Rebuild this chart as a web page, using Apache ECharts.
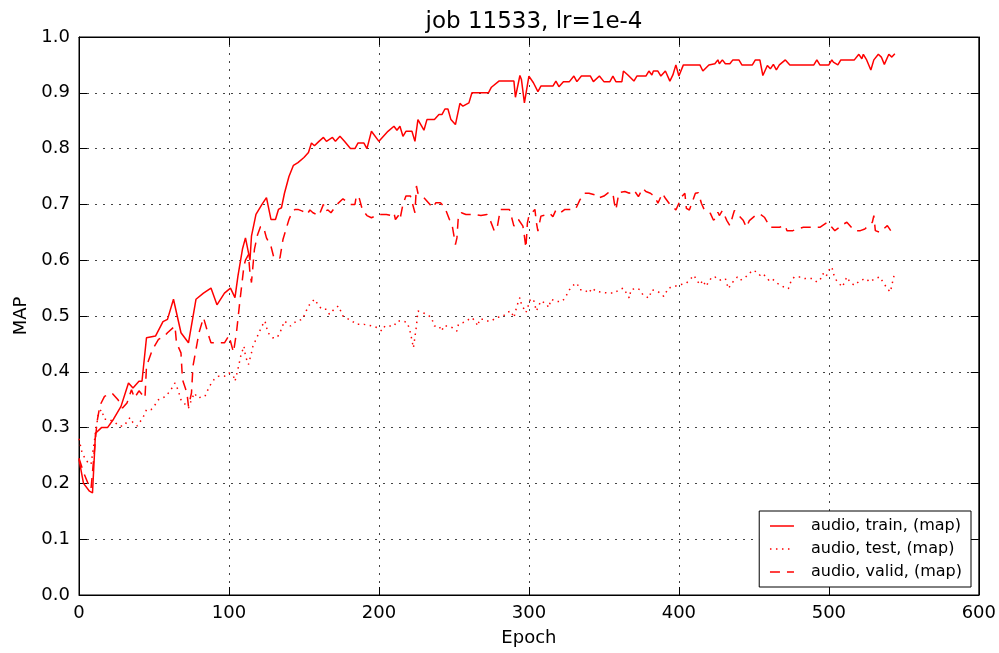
<!DOCTYPE html>
<html>
<head>
<meta charset="utf-8">
<script src="https://cdn.jsdelivr.net/npm/echarts@6/dist/echarts.min.js"></script>
<style>html,body{margin:0;padding:0;background:#fff}#c{width:999px;height:653px}</style>
</head>
<body>
<div id="c"></div>
<script>
const titleText = 'job 11533, lr=1e-4';
const seriesNames = ['audio, train, (map)', 'audio, test, (map)', 'audio, valid, (map)'];
const xTicks = [0, 100, 200, 300, 400, 500, 600];
const yTicks = [0, 0.1, 0.2, 0.3, 0.4, 0.5, 0.6, 0.7, 0.8, 0.9, 1.0];

const trainEpoch = [0,3,7,9,11,15,19,23,28,33, 36,40,42,45,51,56,59,63,68,73, 78,83,88,92,97,101,104,106,109,111,
 114,115,118,122,125,128,131,133,135,137, 140,143,146,150,153,155,157,160,163,165, 169,171,174,177,181,184,186,190,192,195,
 200,203,206,210,212,214,216,218,222,224, 226,230,232,237,240,242,244,246,248,251, 254,256,260,262,273,275,280,290,291,294,
 295,297,300,303,306,308,316,318,320,323, 327,330,332,335,341,343,347,350,354,356, 358,362,363,366,370,372,378,380,382,383,
 386,388,391,394,396,398,400,403,414,416, 420,424,426,427,429,431,434,436,440,442, 449,451,454,456,459,461,463,465,467,471,
 474,490,492,494,500,502,503,506,508,517, 520,522,523,525,528,530,533,535,537,540, 542,544];
const trainMap = [.243,.200,.186,.183,.290,.300,.300,.315,.338,.380, .371,.383,.383,.461,.464,.490,.494,.530,.470,.452, .530,.541,.550,.520,.541,.550,.533,.572,.620,.640,
 .600,.643,.682,.700,.712,.673,.673,.691,.694,.720, .750,.770,.775,.784,.793,.810,.805,.813,.820,.813, .820,.813,.822,.813,.800,.800,.810,.810,.800,.831,
 .813,.822,.831,.840,.833,.840,.822,.831,.831,.813, .852,.833,.852,.852,.861,.861,.871,.871,.852,.843, .881,.876,.882,.900,.900,.910,.921,.921,.892,.931,
 .924,.882,.930,.918,.902,.912,.912,.921,.911,.920, .920,.930,.920,.930,.930,.920,.930,.920,.920,.930, .920,.920,.939,.932,.921,.930,.930,.939,.932,.939,
 .939,.930,.939,.921,.932,.950,.930,.950,.950,.939, .950,.952,.959,.952,.959,.952,.952,.959,.959,.950, .950,.959,.959,.931,.949,.943,.951,.941,.950,.959,
 .950,.950,.959,.950,.950,.959,.955,.950,.959,.959, .969,.961,.969,.960,.941,.959,.969,.964,.951,.969, .964,.970];

const testEpoch = [0,2,3,5,8,9,13,15,17,20, 24,27,30,34,36,39,43,45,48,50, 53,58,62,64,66,68,70,73,75,77,
 79,84,87,90,93,97,100,103,104,106, 108,110,111,113,115,116,119,122,124,126, 129,132,134,137,141,145,149,151,153,155,
 157,160,162,165,167,170,173,176,180,182, 185,190,196,199,202,204,210,212,216,219, 220,221,223,225,226,229,232,235,237,240,
 242,243,246,249,252,253,256,260,262,264, 266,267,270,272,275,278,283,285,288,290, 292,294,295,298,301,303,305,308,312,313,
 315,316,318,322,324,327,330,332,334,337, 340,342,345,353,357,360,363,365,367,368, 372,374,376,380,382,386,390,393,397,401,
 405,407,410,411,412,414,416,418,422,424, 427,431,433,435,439,441,443,446,449,452, 454,456,460,462,466,470,473,475,477,481,
 484,489,492,494,496,498,500,502,503,505, 509,512,514,517,521,525,527,531,534,536, 539,541,542,544];
const testMap = [.280,.255,.250,.240,.234,.237,.327,.332,.315,.315, .309,.303,.303,.318,.309,.303,.320,.332,.332,.338, .350,.356,.371,.380,.368,.350,.344,.335,.350,.362,
 .353,.356,.374,.386,.392,.392,.398,.392,.383,.405, .430,.446,.428,.413,.434,.446,.464,.482,.491,.470, .461,.461,.470,.491,.482,.491,.494,.506,.518,.524,
 .530,.518,.512,.512,.503,.512,.518,.500,.494,.491, .485,.485,.482,.479,.473,.482,.482,.491,.491,.488, .479,.470,.443,.482,.509,.506,.503,.497,.482,.482,
 .473,.482,.482,.479,.473,.485,.488,.494,.497,.491, .482,.494,.494,.491,.491,.497,.500,.506,.509,.497, .518,.533,.521,.506,.530,.530,.509,.527,.521,.515,
 .530,.529,.526,.526,.532,.547,.556,.559,.547,.547, .541,.550,.544,.541,.541,.547,.550,.541,.532,.547, .550,.547,.538,.532,.547,.544,.535,.550,.553,.556,
 .559,.564,.573,.576,.564,.556,.564,.553,.570,.570, .564,.567,.549,.558,.570,.564,.567,.573,.582,.579, .573,.576,.564,.567,.558,.552,.549,.564,.570,.570,
 .567,.567,.561,.564,.576,.570,.582,.588,.576,.564, .552,.570,.561,.555,.564,.567,.561,.567,.570,.561, .549,.543,.555,.579];

const validEpoch = [0,3,6,8,10,12,14,17,22,26, 29,32,35,37,40,44,45,49,53,57, 59,64,65,68,69,72,73,75,76,78,
 80,83,87,88,97,100,103,105,107,110, 111,113,114,115,117,119,121,123,125,128, 130,134,136,140,142,144,146,149,152,154,
 156,160,163,164,166,168,172,176,181,184, 185,187,189,192,195,200,205,208,210,211, 213,214,216,218,221,224,225,226,228,233,
 236,238,241,244,247,249,251,252,253,255, 258,264,268,272,274,277,279,281,284,287, 288,290,293,296,297,298,299,300,302,304,
 305,306,308,312,314,316,318,321,324,331, 334,337,340,344,346,350,353,356,357,358, 360,364,367,370,373,376,378,381,384,386,
 389,391,394,396,398,402,404,405,407,411, 413,415,417,421,423,425,426,427,429,432, 434,436,437,441,443,445,447,451,454,457,
 461,467,471,472,476,479,483,487,494,499, 502,504,510,512,515,517,521,524,529,530, 531,534,539,542,544];
const validMap = [.245,.220,.200,.190,.250,.310,.340,.356,.362,.350, .335,.344,.368,.353,.366,.353,.410,.440,.458,.464, .470,.482,.452,.434,.386,.362,.338,.362,.410,.440,
 .470,.497,.460,.452,.452,.465,.435,.470,.520,.590, .600,.610,.577,.560,.620,.645,.660,.660,.640,.625, .604,.604,.637,.673,.685,.691,.691,.688,.682,.690,
 .685,.680,.700,.688,.690,.685,.700,.710,.700,.700, .716,.710,.690,.680,.676,.682,.682,.680,.685,.673, .680,.673,.700,.715,.715,.685,.733,.720,.718,.703,
 .694,.703,.703,.694,.673,.660,.628,.640,.680,.685, .682,.682,.680,.682,.673,.652,.661,.691,.691,.691, .682,.661,.673,.661,.643,.622,.667,.679,.685,.691,
 .667,.652,.679,.682,.684,.678,.690,.685,.691,.691, .708,.720,.720,.717,.711,.715,.721,.720,.702,.690, .721,.723,.720,.726,.714,.729,.723,.720,.714,.702,
 .720,.711,.700,.696,.690,.714,.720,.693,.690,.720, .721,.702,.690,.684,.672,.675,.686,.680,.689,.671, .662,.680,.689,.677,.671,.659,.671,.680,.683,.677,
 .659,.659,.662,.653,.653,.656,.659,.659,.659,.668, .659,.653,.665,.668,.659,.653,.653,.656,.668,.680, .653,.650,.662,.650,.652];

const FONT = 'DejaVu Sans';
function pairs(xs, ys) { return xs.map((x, i) => [x, ys[i]]); }

const gridLine = { show: true, lineStyle: { color: '#444', width: 1, type: [2, 6] } };
const tick = { show: true, inside: true, length: 8, lineStyle: { color: '#000', width: 1 } };
const axLine = { show: true, onZero: false, lineStyle: { color: '#000', width: 1 } };

const chart = echarts.init(document.getElementById('c'), null, { renderer: 'canvas' });
chart.setOption({
  animation: false,
  backgroundColor: '#fff',
  title: {
    text: titleText, left: 529, top: 6, textAlign: 'center',
    textStyle: { fontFamily: FONT, fontSize: 23, fontWeight: 'normal', color: '#000' }
  },
  grid: { left: 79, right: 20, top: 37, bottom: 58, show: true, borderColor: '#000', borderWidth: 1 },
  xAxis: [{
    type: 'value', min: xTicks[0], max: xTicks[xTicks.length - 1], interval: 100, position: 'bottom',
    axisLine: axLine, axisTick: tick, splitLine: gridLine,
    axisLabel: { color: '#000', fontFamily: FONT, fontSize: 18, margin: 9 },
    name: 'Epoch', nameLocation: 'middle', nameGap: 34,
    nameTextStyle: { color: '#000', fontFamily: FONT, fontSize: 18 }
  }, {
    type: 'value', min: xTicks[0], max: xTicks[xTicks.length - 1], interval: 100, position: 'top',
    axisLine: axLine, axisTick: tick, splitLine: { show: false }, axisLabel: { show: false }
  }],
  yAxis: [{
    type: 'value', min: yTicks[0], max: yTicks[yTicks.length - 1], interval: 0.1, position: 'left',
    axisLine: axLine, axisTick: tick, splitLine: gridLine,
    axisLabel: { color: '#000', fontFamily: FONT, fontSize: 18, margin: 9, formatter: v => v.toFixed(1) },
    name: 'MAP', nameLocation: 'middle', nameGap: 48,
    nameTextStyle: { color: '#000', fontFamily: FONT, fontSize: 18 }
  }, {
    type: 'value', min: yTicks[0], max: yTicks[yTicks.length - 1], interval: 0.1, position: 'right',
    axisLine: axLine, axisTick: tick, splitLine: { show: false }, axisLabel: { show: false }
  }],
  legend: {
    orient: 'vertical', right: 28, bottom: 66,
    data: seriesNames,
    itemWidth: 24, itemHeight: 16, itemGap: 7,
    padding: [7, 9, 7, 10],
    backgroundColor: '#fff', borderColor: '#000', borderWidth: 1,
    itemStyle: { opacity: 0, color: 'rgba(0,0,0,0)', borderWidth: 0 },
    lineStyle: { width: 1.5 },
    textStyle: { color: '#000', fontFamily: FONT, fontSize: 16, padding: [0, 0, 0, 12] }
  },
  series: [
    { name: seriesNames[0], type: 'line', data: pairs(trainEpoch, trainMap), symbol: 'none', showSymbol: false,
      color: '#ff0000', lineStyle: { color: '#ff0000', width: 1.5, type: 'solid' }, z: 3 },
    { name: seriesNames[1], type: 'line', data: pairs(testEpoch, testMap), symbol: 'none', showSymbol: false,
      color: '#ff0000', lineStyle: { color: '#ff0000', width: 1.5, type: [1.5, 4.5] }, z: 3 },
    { name: seriesNames[2], type: 'line', data: pairs(validEpoch, validMap), symbol: 'none', showSymbol: false,
      color: '#ff0000', lineStyle: { color: '#ff0000', width: 1.5, type: [10, 7] }, z: 3 }
  ]
});
</script>
</body>
</html>
